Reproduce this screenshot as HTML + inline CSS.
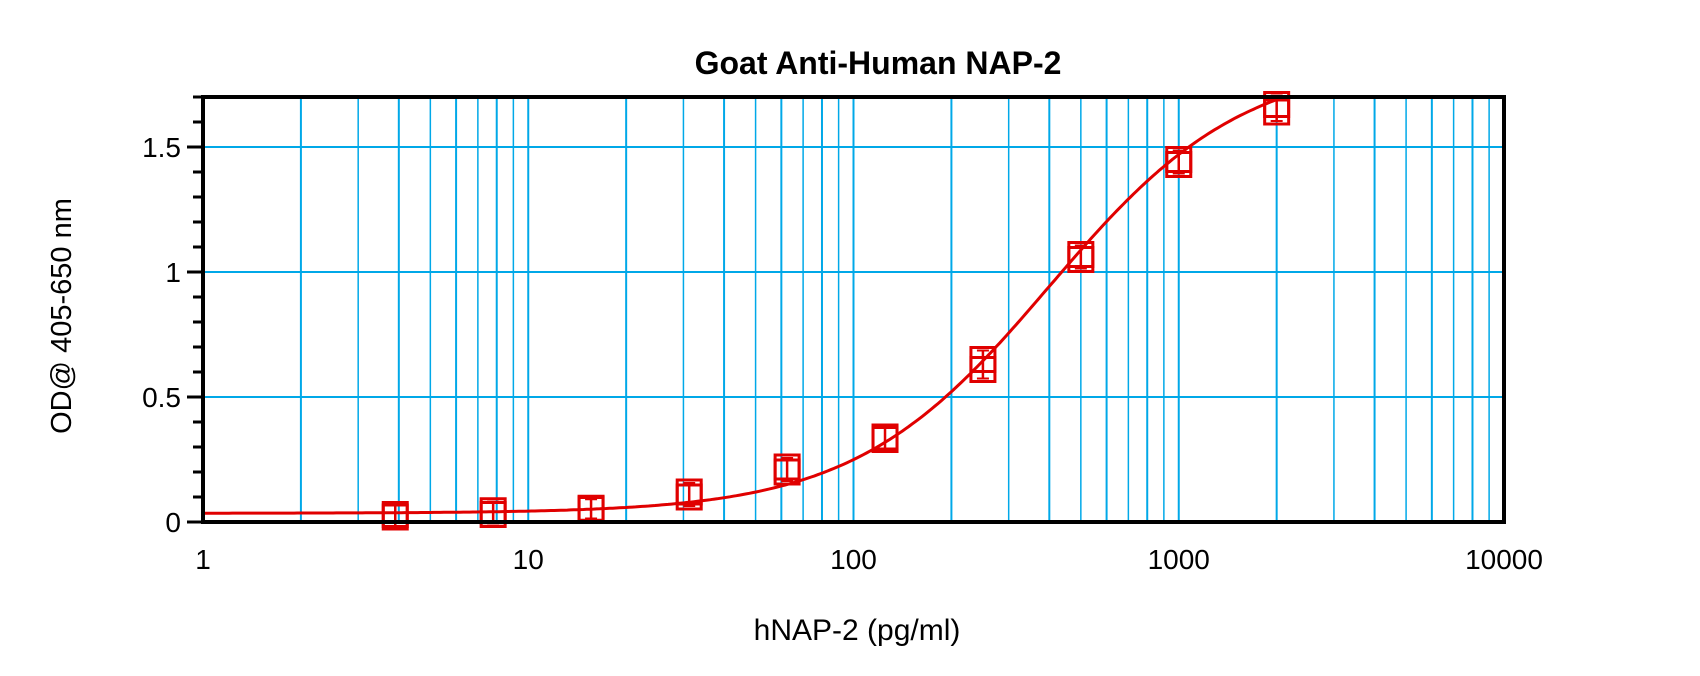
<!DOCTYPE html>
<html><head><meta charset="utf-8"><style>
body{margin:0;background:#fff;}
svg{display:block;font-family:"Liberation Sans",Arial,sans-serif;}
</style></head><body>
<svg id="s" width="1700" height="676" xmlns="http://www.w3.org/2000/svg">
<text x="878" y="74" font-size="32" font-weight="bold" text-anchor="middle">Goat Anti-Human NAP-2</text>
<text x="857" y="640" font-size="30" text-anchor="middle">hNAP-2 (pg/ml)</text>
<text transform="translate(71,316) rotate(-90)" font-size="29" text-anchor="middle">OD@ 405-650 nm</text>
<g id="g"></g>
</svg>
<script>
var L=203,R=1504,T=97,B=522,D=(R-L)/4;
function X(v){return L+Math.log10(v)*D;}
function Y(v){return B-v*250;}
var h='';
for(var d=0;d<4;d++)for(var k=2;k<=10;k++){var x=X(k*Math.pow(10,d));if(x<R-1)h+='<line x1="'+x+'" y1="'+T+'" x2="'+x+'" y2="'+B+'" stroke="#00a8e8" stroke-width="'+(k==10||k%2==0?2:1.5)+'"/>';}
[0.5,1,1.5].forEach(function(v){h+='<line x1="'+L+'" y1="'+Y(v)+'" x2="'+R+'" y2="'+Y(v)+'" stroke="#00a8e8" stroke-width="2"/>';});
for(var i=0;i<=17;i++){var y=Y(i/10);h+='<line x1="'+(i%5==0?L-16:L-10)+'" y1="'+y+'" x2="'+L+'" y2="'+y+'" stroke="#000" stroke-width="3"/>';}
[[0,'0'],[0.5,'0.5'],[1,'1'],[1.5,'1.5']].forEach(function(a){h+='<text x="'+(L-22)+'" y="'+(Y(a[0])+10)+'" font-size="28" text-anchor="end">'+a[1]+'</text>';});
[1,10,100,1000,10000].forEach(function(v,i){h+='<text x="'+X(v)+'" y="'+(B+47)+'" font-size="28" text-anchor="middle">'+v+'</text>';});
var p='';
for(var lx=0;lx<=3.4;lx+=0.01){var v=Math.pow(10,lx);var y=1.85-1.815/(1+Math.pow(v/400,1.45));if(y>1.7)break;p+=(p?'L':'M')+X(v).toFixed(1)+','+Y(y).toFixed(1);}
h+='<path d="'+p+'" fill="none" stroke="#e00000" stroke-width="3"/>';
var pts=[[3.9,0.02,0.03],[7.8,0.03,0.045],[15.6,0.05,0.055],[31.25,0.10,0.12],[62.5,0.20,0.22],[125,0.33,0.34],[250,0.61,0.65],[500,1.05,1.07],[1000,1.43,1.45],[2000,1.64,1.67]];
pts.forEach(function(a){var x=X(a[0]);[a[1],a[2]].forEach(function(v){var y=Y(v);h+='<rect x="'+(x-12)+'" y="'+(y-12)+'" width="24" height="24" fill="none" stroke="#e00000" stroke-width="3"/>';});
var y1=Y(a[2]),y2=Y(a[1]);h+='<line x1="'+x+'" y1="'+(y1-9)+'" x2="'+x+'" y2="'+(y2+9)+'" stroke="#e00000" stroke-width="2.5"/><line x1="'+(x-6)+'" y1="'+(y1-9)+'" x2="'+(x+6)+'" y2="'+(y1-9)+'" stroke="#e00000" stroke-width="2"/><line x1="'+(x-6)+'" y1="'+(y2+9)+'" x2="'+(x+6)+'" y2="'+(y2+9)+'" stroke="#e00000" stroke-width="2"/>';});
h+='<rect x="'+L+'" y="'+T+'" width="'+(R-L)+'" height="'+(B-T)+'" fill="none" stroke="#000" stroke-width="4"/>';
document.getElementById('g').innerHTML=h;
</script>
</body></html>
